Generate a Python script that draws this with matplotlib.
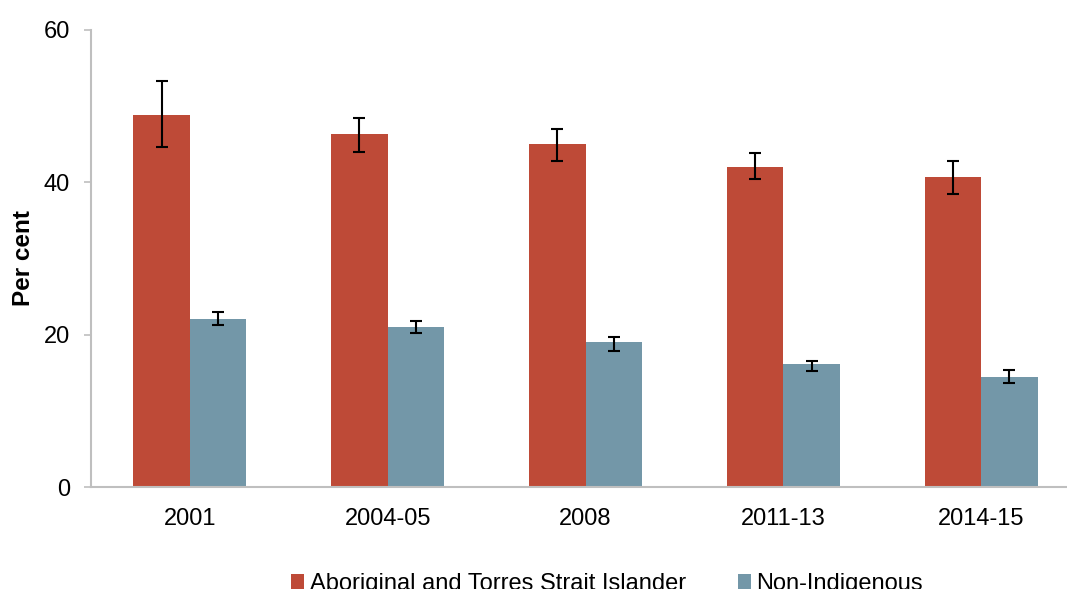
import numpy as np
import matplotlib
matplotlib.use('Agg')
import matplotlib.pyplot as plt

plt.rcParams['font.family'] = ['Liberation Sans', 'DejaVu Sans']

years = ['2001', '2004-05', '2008', '2011-13', '2014-15']
indig = [48.8, 46.3, 45.0, 42.05, 40.7]
indig_hi = [53.3, 48.5, 47.0, 43.85, 42.8]
indig_lo = [44.6, 44.0, 42.8, 40.4, 38.5]
nonind = [22.1, 21.0, 19.0, 16.1, 14.5]
nonind_hi = [23.0, 21.8, 19.7, 16.5, 15.3]
nonind_lo = [21.3, 20.2, 17.8, 15.2, 13.6]

red = '#BE4A37'
blue = '#7397A8'
grey = '#BFBFBF'

fig = plt.figure(figsize=(10.67, 5.89), dpi=100)
ax = fig.add_axes([91/1067, 1 - 487/589, 989/1067, 457/589])

x = np.arange(len(years))
w = 0.286
err_i = [np.array(indig) - np.array(indig_lo), np.array(indig_hi) - np.array(indig)]
err_n = [np.array(nonind) - np.array(nonind_lo), np.array(nonind_hi) - np.array(nonind)]

ekw = dict(ecolor='black', elinewidth=1.5, capsize=4.5, capthick=1.5)
ax.bar(x - w/2, indig, w, color=red, label='Aboriginal and Torres Strait Islander',
       yerr=err_i, error_kw=ekw)
ax.bar(x + w/2, nonind, w, color=blue, label='Non-Indigenous',
       yerr=err_n, error_kw=ekw)

ax.set_xlim(-0.5, len(years) - 0.5)
ax.set_ylim(0, 60)
ax.set_yticks([0, 20, 40, 60])
ax.set_xticks(x)
ax.set_xticklabels(years, fontsize=17)
ax.tick_params(axis='y', labelsize=17, length=5, color=grey, width=1.2, pad=10)
ax.tick_params(axis='x', length=0, pad=15)
for s in ['top', 'right']:
    ax.spines[s].set_visible(False)
for s in ['left', 'bottom']:
    ax.spines[s].set_color(grey)
    ax.spines[s].set_linewidth(1.5)

ax.set_ylabel('Per cent', fontsize=17.5, fontweight='bold', labelpad=6)

fig.legend(loc='center', bbox_to_anchor=(607/1067, 1 - 584/589), ncol=2, frameon=False,
           fontsize=17, handlelength=0.58, handleheight=0.58, handletextpad=0.22,
           columnspacing=2.2)

fig.savefig('out.png', dpi=100)
